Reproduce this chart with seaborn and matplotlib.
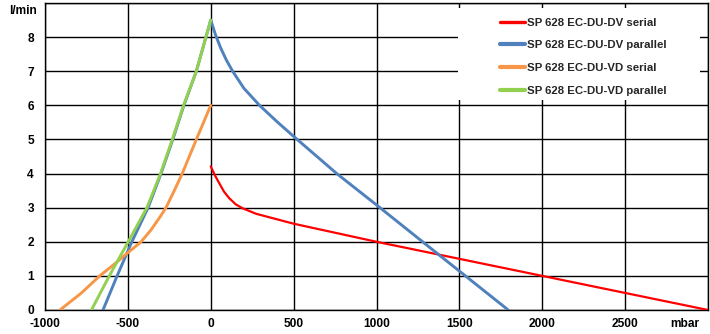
import matplotlib
matplotlib.use("Agg")
import matplotlib.pyplot as plt
import seaborn as sns
import pandas as pd
from matplotlib.patches import Rectangle

# Pressure (mbar) vs. flow (l/min) curves
dv_serial_x = [0, 25, 51, 80, 111, 150, 193, 274, 500, 1000, 2000, 3000]
dv_serial_y = [4.21, 3.95, 3.72, 3.47, 3.28, 3.10, 2.98, 2.82, 2.53, 2.0, 1.0, 0.0]

dv_parallel_x = [-650, -565, -476, -378, -300, -229, -162, -87, 0,
                 15, 30, 60, 95, 132, 200, 294, 400, 500, 760, 1000, 1389, 1795]
dv_parallel_y = [0.0, 1.0, 2.0, 3.0, 4.0, 5.0, 6.0, 7.0, 8.5,
                 8.27, 8.05, 7.68, 7.32, 7.0, 6.5, 6.0, 5.52, 5.09, 4.0, 3.08, 1.57, 0.0]

vd_serial_x = [-910, -780, -670, -580, -500, -420, -360, -310, -270, -220, -172, -87, 0]
vd_serial_y = [0.0, 0.5, 1.0, 1.35, 1.68, 2.0, 2.35, 2.7, 3.0, 3.5, 4.0, 5.0, 6.0]

vd_parallel_x = [-720, -612, -498, -385, -303, -232, -164, -87, 0]
vd_parallel_y = [0.0, 1.0, 2.0, 3.0, 4.0, 5.0, 6.0, 7.0, 8.5]

series_names = ["SP 628 EC-DU-DV serial", "SP 628 EC-DU-DV parallel",
                "SP 628 EC-DU-VD serial", "SP 628 EC-DU-VD parallel"]
series_colors = ["#FF0000", "#4F81BD", "#F79646", "#92D050"]
series_widths = [1.6, 2.1, 2.1, 2.1]

x_ticks = [-1000, -500, 0, 500, 1000, 1500, 2000, 2500]
y_ticks = [0, 1, 2, 3, 4, 5, 6, 7, 8]

sns.set_theme(style="white")
plt.rcParams["font.family"] = ["Liberation Sans", "DejaVu Sans"]
plt.rcParams["font.weight"] = "bold"

fig = plt.figure(figsize=(7.10, 3.34), dpi=100)
ax = fig.add_axes([45 / 710, 1 - 310 / 334, 663 / 710, 307 / 334])

curves = [(dv_serial_x, dv_serial_y), (dv_parallel_x, dv_parallel_y),
          (vd_serial_x, vd_serial_y), (vd_parallel_x, vd_parallel_y)]
for (xs, ys), name, col, lw in zip(curves, series_names, series_colors, series_widths):
    df = pd.DataFrame({"mbar": xs, "lmin": ys})
    sns.lineplot(data=df, x="mbar", y="lmin", sort=False, estimator=None,
                 color=col, linewidth=lw, label=name, ax=ax, zorder=3)

ax.set_xlim(-1000, 3000)
ax.set_ylim(0, 9)
ax.set_xticks(x_ticks + [3000])
ax.set_xticklabels([str(v) for v in x_ticks] + [""])
ax.set_yticks(y_ticks + [9])
ax.set_yticklabels([str(v) for v in y_ticks] + [""])
ax.set_xlabel("")
ax.set_ylabel("")
ax.grid(True, color="black", linewidth=1.0)
ax.set_axisbelow(True)
for sp in ax.spines.values():
    sp.set_color("black")
    sp.set_linewidth(1.0)
    sp.set_visible(True)
ax.tick_params(axis="both", direction="out", length=3.0, width=1.0,
               color="black", labelsize=8.6, labelcolor="black")
ax.tick_params(axis="x", pad=2.5)
ax.tick_params(axis="y", pad=5.0)
for lbl in ax.get_xticklabels() + ax.get_yticklabels():
    lbl.set_fontweight("bold")

# White area behind the legend hides the grid there
ax.add_patch(Rectangle((0.623, 0.684), 0.365, 0.300, transform=ax.transAxes,
                       facecolor="white", edgecolor="none", zorder=2))

ax.text(-0.0125, 0.964, "l/min", transform=ax.transAxes, ha="right", va="baseline",
        fontsize=8.6, fontweight="bold", color="black")
ax.text(0.9864, -0.0544, "mbar", transform=ax.transAxes, ha="right", va="baseline",
        fontsize=8.6, fontweight="bold", color="black")

leg = ax.legend(loc="upper left", bbox_to_anchor=(0.686, 0.952), frameon=False,
                fontsize=8.2, borderpad=0, handlelength=2.25, handletextpad=0.15,
                labelspacing=1.11, borderaxespad=0)
for t in leg.get_texts():
    t.set_fontweight("bold")
for h, lw in zip(leg.get_lines(), [2.4, 3.0, 3.0, 3.0]):
    h.set_linewidth(lw)
leg.set_zorder(4)

fig.savefig("out.png", dpi=100)
